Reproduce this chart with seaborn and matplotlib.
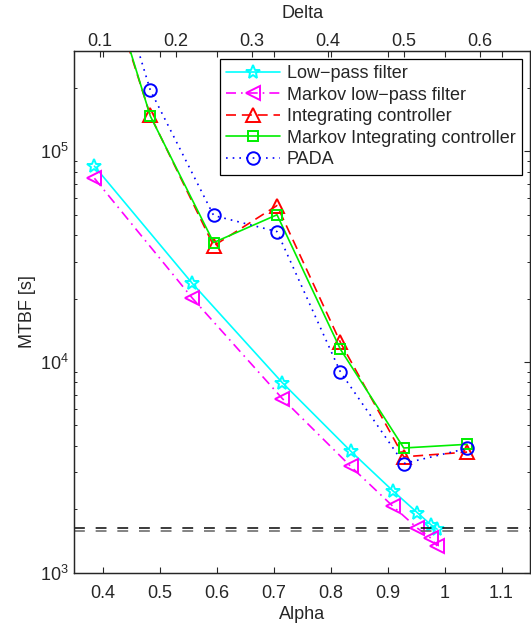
import matplotlib
matplotlib.use("Agg")
import matplotlib.pyplot as plt
import seaborn as sns
import numpy as np

# ---- data ----
alpha_vals = [0.385, 0.557, 0.715, 0.835, 0.909, 0.952, 0.976, 0.987]
mtbf_lowpass = [8.5e4, 2.36e4, 7.98e3, 3.78e3, 2.45e3, 1.93e3, 1.69e3, 1.61e3]
mtbf_markov_lowpass = [7.45e4, 2.01e4, 6.71e3, 3.2e3, 2.07e3, 1.63e3, 1.46e3, 1.34e3]

delta_vals = [0.0833, 0.1667, 0.25, 0.3333, 0.4167, 0.5, 0.5833]
mtbf_integrating = [1.3e6, 1.48e5, 3.56e4, 5.53e4, 1.24e4, 3.55e3, 3.74e3]
mtbf_markov_integrating = [1.4e6, 1.47e5, 3.69e4, 5.0e4, 1.15e4, 3.91e3, 4.07e3]
mtbf_pada = [1.9e6, 1.95e5, 4.96e4, 4.16e4, 8.97e3, 3.3e3, 3.89e3]

thresholds = [1633, 1577]
threshold_colors = ["#1a1a1a", "#6e6e6e"]

labels = ["Low\u2212pass filter", "Markov low\u2212pass filter", "Integrating controller",
          "Markov Integrating controller", "PADA"]

# ---- style ----
sns.set_theme(style="white")
plt.rcParams["font.family"] = ["Liberation Sans", "DejaVu Sans"]
plt.rcParams["mathtext.fontset"] = "custom"
plt.rcParams["mathtext.rm"] = "Liberation Sans"
plt.rcParams["mathtext.it"] = "Liberation Sans:italic"
FS = 13
plt.rcParams["font.size"] = FS

fig = plt.figure(figsize=(5.31, 6.24), dpi=100)
ax = fig.add_axes([0.1403, 0.0821, 0.8578, 0.8365])
ax.set_yscale("log")
ax2 = ax.twiny()

lw = 1.2
mew = 1.4
sns.lineplot(x=alpha_vals, y=mtbf_lowpass, ax=ax, color="#00ffff", marker="*", markersize=10,
             markerfacecolor="none", markeredgecolor="#00ffff", markeredgewidth=mew,
             linewidth=lw, linestyle="-", errorbar=None, legend=False, label=labels[0])
sns.lineplot(x=alpha_vals, y=mtbf_markov_lowpass, ax=ax, color="#ff00ff", marker="<", markersize=10,
             markerfacecolor="none", markeredgecolor="#ff00ff", markeredgewidth=mew,
             linewidth=lw, linestyle=(0, (6, 3, 1, 3)), errorbar=None, legend=False, label=labels[1])

sns.lineplot(x=delta_vals, y=mtbf_integrating, ax=ax2, color="#ff0000", marker="^", markersize=10,
             markerfacecolor="none", markeredgecolor="#ff0000", markeredgewidth=mew,
             linewidth=lw, linestyle=(0, (6, 3.5)), errorbar=None, legend=False, label=labels[2])
sns.lineplot(x=delta_vals, y=mtbf_markov_integrating, ax=ax2, color="#00ee00", marker="s", markersize=7.5,
             markerfacecolor="none", markeredgecolor="#00ee00", markeredgewidth=mew,
             linewidth=lw, linestyle="-", errorbar=None, legend=False, label=labels[3])
sns.lineplot(x=delta_vals, y=mtbf_pada, ax=ax2, color="#0000ff", marker="o", markersize=9,
             markerfacecolor="none", markeredgecolor="#0000ff", markeredgewidth=mew,
             linewidth=lw, linestyle=(0, (1, 3)), errorbar=None, legend=False, label=labels[4])

for yv, c in zip(thresholds, threshold_colors):
    ax.axhline(yv, color=c, linewidth=1.2, linestyle=(0, (6.5, 6.5)))

ax.set_xlim(0.35, 1.15)
ax2.set_xlim(0.067, 0.666)
ax.set_ylim(1e3, 3e5)

ax.set_xticks([0.4, 0.5, 0.6, 0.7, 0.8, 0.9, 1.0, 1.1])
ax.set_xticklabels(["0.4", "0.5", "0.6", "0.7", "0.8", "0.9", "1", "1.1"])
ax2.set_xticks([0.1, 0.2, 0.3, 0.4, 0.5, 0.6])
ax2.set_xticklabels(["0.1", "0.2", "0.3", "0.4", "0.5", "0.6"])
ax.set_yticks([1e3, 1e4, 1e5])
ax.set_yticklabels([r"$10^3$", r"$10^4$", r"$10^5$"])

ax.set_xlabel("Alpha", fontsize=FS, labelpad=3)
ax2.set_xlabel("Delta", fontsize=FS, labelpad=11)
ax.set_ylabel("MTBF [s]", fontsize=FS, labelpad=3)

spine_c = "#262626"
for a in (ax, ax2):
    for s in a.spines.values():
        s.set_color(spine_c)
        s.set_linewidth(0.9)
ax.tick_params(axis="both", which="major", direction="in", length=4, width=0.8,
               color=spine_c, labelsize=FS, top=True, right=True, labeltop=False)
ax.tick_params(axis="x", which="major", pad=8.5)
ax.tick_params(axis="y", which="major", pad=4)
ax.tick_params(axis="y", which="minor", direction="in", length=2.5, width=0.7,
               color=spine_c, left=True, right=True)
ax.tick_params(axis="x", which="minor", bottom=False, top=False)
ax2.tick_params(axis="x", which="major", direction="in", length=4, width=0.8,
                color=spine_c, labelsize=FS, pad=0.5)
ax2.tick_params(axis="x", which="minor", top=False, bottom=False)
ax2.grid(False)
ax.grid(False)

h1, l1 = ax.get_legend_handles_labels()
h2, l2 = ax2.get_legend_handles_labels()
leg = ax2.legend(h1 + h2, l1 + l2, loc="upper right", fontsize=FS, frameon=True,
                 fancybox=False, framealpha=1, edgecolor="#000000", handlelength=3.0,
                 handletextpad=0.35, labelspacing=0.25, borderpad=0.35, borderaxespad=0.45)
leg.get_frame().set_linewidth(0.9)

fig.savefig("out.png", dpi=100)
